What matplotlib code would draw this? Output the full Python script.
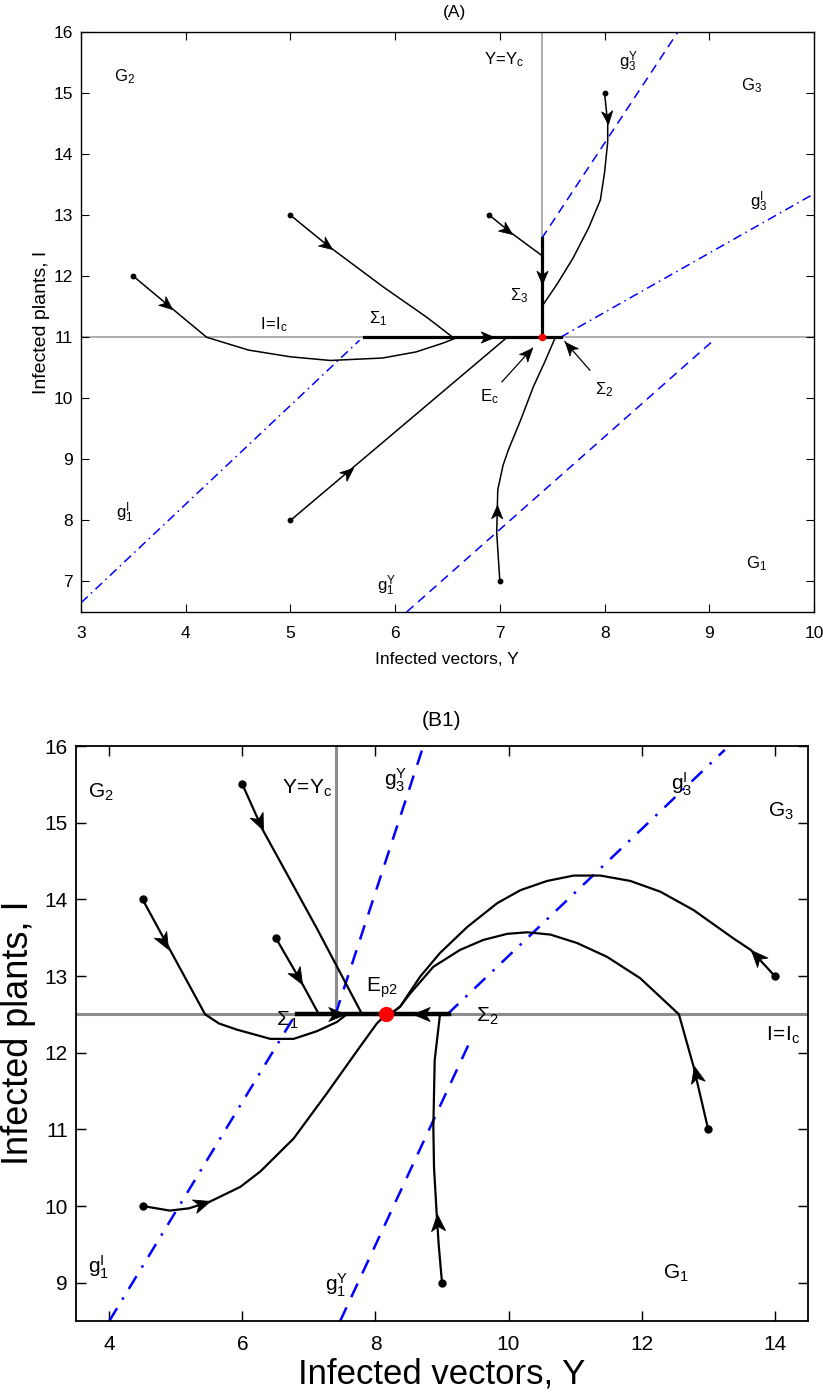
import numpy as np
import matplotlib
matplotlib.use("Agg")
import matplotlib.pyplot as plt
from matplotlib.path import Path
from matplotlib.markers import MarkerStyle
from matplotlib.transforms import Affine2D

plt.rcParams['font.family'] = ['Liberation Sans', 'DejaVu Sans']
plt.rcParams['mathtext.fontset'] = 'custom'
plt.rcParams['mathtext.rm'] = 'Liberation Sans'
plt.rcParams['mathtext.it'] = 'Liberation Sans'
plt.rcParams['mathtext.sf'] = 'Liberation Sans'
plt.rcParams['mathtext.bf'] = 'Liberation Sans:bold'

# ---------------- Panel A data ----------------
A_xlim = (3, 10)
A_ylim = (6.5, 16)
A_xticks = [3, 4, 5, 6, 7, 8, 9, 10]
A_yticks = [7, 8, 9, 10, 11, 12, 13, 14, 15, 16]
A_Yc = 7.4
A_Ic = 11.0
A_Ec = (7.4, 11.0)
A_sigma1 = ([5.70, 7.58], [11.0, 11.0])
A_sigma3 = ([7.4, 7.4], [11.0, 12.62])
A_g1I = ([3.0, 5.66], [6.65, 10.95])
A_g3I = ([7.58, 10.0], [11.0, 13.35])
A_g1Y = ([6.11, 9.04], [6.5, 10.95])
A_g3Y = ([7.4, 8.70], [12.62, 16.0])

A_traj = [
    ([3.5, 3.87, 4.2, 4.6, 5.0, 5.38, 5.88, 6.2, 6.45, 6.6],
     [12.0, 11.47, 11.0, 10.79, 10.68, 10.62, 10.66, 10.76, 10.9, 11.0]),
    ([5.0, 5.35, 5.89, 6.3, 6.55],
     [13.0, 12.51, 11.82, 11.33, 11.0]),
    ([5.0, 7.07], [8.0, 11.0]),
    ([7.0, 6.97, 6.98, 7.03, 7.08, 7.2, 7.32, 7.43, 7.53],
     [7.0, 7.8, 8.5, 8.9, 9.15, 9.65, 10.19, 10.6, 11.0]),
    ([8.0, 8.03, 8.03, 8.0, 7.96, 7.85, 7.7, 7.55, 7.4],
     [15.0, 14.5, 14.2, 13.7, 13.25, 12.8, 12.3, 11.88, 11.5]),
    ([6.9, 7.1, 7.4], [13.0, 12.72, 12.34]),
]
A_starts_x = [3.5, 5.0, 5.0, 7.0, 8.0, 6.9]
A_starts_y = [12.0, 13.0, 8.0, 7.0, 15.0, 13.0]
# arrow tips: (trajectory index or 's1'/'s3', x, y)
A_arrows = [(0, 3.87, 11.47), (1, 5.4, 12.44), (2, 5.6, 8.86), (3, 6.975, 8.25),
            (4, 8.03, 14.5), (5, 7.12, 12.69), ('s1', 6.94, 11.0), ('s3', 7.4, 11.88)]
A_labels = [
    (r'$\mathrm{G}_2$', 3.42, 15.27), (r'$\mathrm{G}_3$', 9.4, 15.12),
    (r'$\mathrm{G}_1$', 9.45, 7.3), (r'$\mathrm{Y\!=\!Y}_\mathrm{c}$', 7.04, 15.54),
    (r'$\mathrm{g}_3^\mathrm{Y}$', 8.23, 15.51), (r'$\mathrm{g}_3^\mathrm{I}$', 9.47, 13.22),
    (r'$\mathrm{I\!=\!I}_\mathrm{c}$', 4.84, 11.2), (r'$\Sigma_1$', 5.84, 11.3),
    (r'$\Sigma_3$', 7.18, 11.68), (r'$\mathrm{E}_\mathrm{c}$', 6.9, 10.02),
    (r'$\Sigma_2$', 8.0, 10.15), (r'$\mathrm{g}_1^\mathrm{I}$', 3.42, 8.12),
    (r'$\mathrm{g}_1^\mathrm{Y}$', 5.92, 6.93),
]
A_pointers = [((7.02, 10.27), (7.31, 10.82)), ((7.86, 10.46), (7.62, 10.93))]

# ---------------- Panel B1 data ----------------
B_xlim = (3.5, 14.5)
B_ylim = (8.5, 16)
B_xticks = [4, 6, 8, 10, 12, 14]
B_yticks = [9, 10, 11, 12, 13, 14, 15, 16]
B_Yc = 7.4
B_Ic = 12.5
B_Ep = (8.16, 12.5)
B_sigma1 = ([6.82, 8.16], [12.5, 12.5])
B_sigma2 = ([8.16, 9.10], [12.5, 12.5])
B_g1I = ([4.0, 6.8], [8.5, 12.5])
B_g3I = ([9.08, 13.25], [12.5, 15.95])
B_g1Y = ([7.47, 9.45], [8.5, 12.2])
B_g3Y = ([7.4, 8.72], [12.5, 16.0])

B_traj = [
    ([4.5, 5.44, 5.65, 5.92, 6.42, 6.77, 7.12, 7.42, 7.57],
     [14.0, 12.5, 12.38, 12.30, 12.18, 12.18, 12.28, 12.40, 12.5]),
    ([6.0, 6.31, 7.12, 7.8], [15.5, 14.9, 13.62, 12.5]),
    ([6.5, 6.7, 6.9, 7.15], [13.5, 13.2, 12.9, 12.5]),
    ([4.5, 4.91, 5.2, 5.52, 5.97, 6.27, 6.77, 7.27, 7.77, 8.02, 8.16],
     [10.0, 9.94, 9.97, 10.06, 10.25, 10.45, 10.88, 11.47, 12.08, 12.38, 12.5]),
    ([14.0, 13.64, 13.38, 12.78, 12.28, 11.83, 11.38, 10.98, 10.58, 10.18, 9.83,
      9.38, 8.97, 8.67, 8.37, 8.22],
     [13.0, 13.34, 13.49, 13.86, 14.10, 14.24, 14.31, 14.31, 14.24, 14.12, 13.95,
      13.64, 13.30, 12.99, 12.60, 12.5]),
    ([13.0, 12.78, 12.56, 11.98, 11.48, 11.03, 10.63, 10.28, 9.98, 9.62, 9.27,
      8.87, 8.52, 8.37, 8.22],
     [11.0, 11.82, 12.5, 12.97, 13.25, 13.43, 13.54, 13.57, 13.55, 13.47, 13.34,
      13.12, 12.77, 12.60, 12.5]),
    ([9.0, 8.95, 8.92, 8.88, 8.87, 8.89, 8.97],
     [9.0, 9.5, 9.9, 10.5, 11.03, 11.9, 12.5]),
]
B_starts_x = [4.5, 6.0, 6.5, 4.5, 14.0, 13.0, 9.0]
B_starts_y = [14.0, 15.5, 13.5, 10.0, 13.0, 11.0, 9.0]
B_arrows = [(0, 4.88, 13.35), (1, 6.31, 14.9), (2, 6.9, 12.9), (3, 5.52, 10.06),
            (4, 13.64, 13.34), (5, 12.78, 11.82), (6, 8.92, 9.9),
            ('s1', 7.54, 12.5), ('s2', 8.57, 12.5)]
B_labels = [
    (r'$\mathrm{G}_2$', 3.87, 15.4), (r'$\mathrm{G}_3$', 14.1, 15.15),
    (r'$\mathrm{G}_1$', 12.52, 9.12), (r'$\mathrm{Y\!=\!Y}_\mathrm{c}$', 6.98, 15.45),
    (r'$\mathrm{g}_3^\mathrm{Y}$', 8.3, 15.55), (r'$\mathrm{g}_3^\mathrm{I}$', 12.6, 15.5),
    (r'$\mathrm{I\!=\!I}_\mathrm{c}$', 14.13, 12.22), (r'$\Sigma_1$', 6.68, 12.42),
    (r'$\Sigma_2$', 9.68, 12.48), (r'$\mathrm{E}_\mathrm{p2}$', 8.1, 12.85),
    (r'$\mathrm{g}_1^\mathrm{I}$', 3.84, 9.2), (r'$\mathrm{g}_1^\mathrm{Y}$', 7.42, 8.97),
]

# ---------------- drawing ----------------
W, H = 823, 1396
fig = plt.figure(figsize=(W / 100, H / 100), dpi=100)

def px_axes(l, t, r, b):
    return fig.add_axes([l / W, 1 - b / H, (r - l) / W, (b - t) / H])

axA = px_axes(81, 32, 814, 612)
axB = px_axes(76, 746, 808, 1321)

head_path = Path([(0, 0), (-1, 0.42), (-0.72, 0), (-1, -0.42), (0, 0)],
                 [Path.MOVETO, Path.LINETO, Path.LINETO, Path.LINETO, Path.CLOSEPOLY])

def draw_arrow(ax, xs, ys, x, y, ms):
    xs = np.asarray(xs, float); ys = np.asarray(ys, float)
    best, bi = 1e9, 0
    for i in range(len(xs) - 1):
        seglen = np.hypot(xs[i + 1] - xs[i], ys[i + 1] - ys[i])
        t = 0 if seglen == 0 else np.clip(((x - xs[i]) * (xs[i + 1] - xs[i]) + (y - ys[i]) * (ys[i + 1] - ys[i])) / seglen ** 2, 0, 1)
        px_, py_ = xs[i] + t * (xs[i + 1] - xs[i]), ys[i] + t * (ys[i + 1] - ys[i])
        d = np.hypot(px_ - x, py_ - y)
        if d < best:
            best, bi = d, i
    p0 = ax.transData.transform((xs[bi], ys[bi]))
    p1 = ax.transData.transform((xs[bi + 1], ys[bi + 1]))
    ang = np.degrees(np.arctan2(p1[1] - p0[1], p1[0] - p0[0]))
    m = MarkerStyle(head_path, transform=Affine2D().rotate_deg(ang))
    ax.plot([x], [y], marker=m, ms=ms, color='k', mec='k', mew=0.6, zorder=6)

def setup(ax, xlim, ylim, xt, yt, fs, tl, lw, pad):
    ax.set_xlim(*xlim); ax.set_ylim(*ylim)
    ax.set_xticks(xt); ax.set_yticks(yt)
    ax.tick_params(direction='in', top=True, right=True, length=tl, width=lw * 0.8,
                   labelsize=fs)
    ax.tick_params(axis='x', pad=pad)
    ax.tick_params(axis='y', pad=pad * 0.6)
    for s in ax.spines.values():
        s.set_linewidth(lw)

# ---- Panel A ----
ax = axA
setup(ax, A_xlim, A_ylim, A_xticks, A_yticks, 12.5, 6, 1.0, 10)
gray = '#999999'
ax.plot(A_xlim, [A_Ic, A_Ic], color=gray, lw=1.1, zorder=1)
ax.plot([A_Yc, A_Yc], [A_Ic, A_ylim[1]], color=gray, lw=1.1, zorder=1)
ax.plot(*A_g1I, color='blue', lw=1.1, dashes=[6, 3, 1, 3], zorder=2)
ax.plot(*A_g3I, color='blue', lw=1.1, dashes=[6, 3, 1, 3], zorder=2)
ax.plot(*A_g1Y, color='blue', lw=1.1, dashes=[6, 4], zorder=2)
ax.plot(*A_g3Y, color='blue', lw=1.1, dashes=[6, 4], zorder=2)
for xs, ys in A_traj:
    ax.plot(xs, ys, color='k', lw=1.1, zorder=3)
ax.plot(*A_sigma1, color='k', lw=2.3, zorder=4)
ax.plot(*A_sigma3, color='k', lw=2.3, zorder=4)
ax.plot(A_starts_x, A_starts_y, 'o', color='k', ms=3.2, zorder=5)
ax.plot([A_Ec[0]], [A_Ec[1]], 'o', color='red', ms=4.5, zorder=7)
for key, x, y in A_arrows:
    if key == 's1':
        xs, ys = A_sigma1
    elif key == 's3':
        xs, ys = [A_Yc, A_Yc], [A_sigma3[1][1], A_sigma3[1][0]]
    else:
        xs, ys = A_traj[key]
    draw_arrow(ax, xs, ys, x, y, 19)
for t, x, y in A_labels:
    ax.text(x, y, t, fontsize=12, ha='center', va='center', zorder=8)
for (tx, ty), (hx, hy) in A_pointers:
    ax.plot([tx, hx], [ty, hy], color='k', lw=0.9, zorder=6)
    draw_arrow(ax, [tx, hx], [ty, hy], hx, hy, 19)
fig.text(455 / W, 1 - 13 / H, '(A)', fontsize=12.5, ha='center', va='center')
fig.text(447 / W, 1 - 660 / H, 'Infected vectors, Y', fontsize=12.5, ha='center', va='center')
fig.text(42 / W, 1 - 322 / H, 'Infected plants, I', fontsize=14, ha='center', va='center',
         rotation=90)

# ---- Panel B1 ----
ax = axB
setup(ax, B_xlim, B_ylim, B_xticks, B_yticks, 15, 7, 1.3, 10)
ax.plot(B_xlim, [B_Ic, B_Ic], color='#8c8c8c', lw=2.2, zorder=1)
ax.plot([B_Yc, B_Yc], [B_Ic, B_ylim[1]], color='#8c8c8c', lw=2.2, zorder=1)
ax.plot(*B_g1I, color='blue', lw=1.8, dashes=[6, 4, 1, 4], zorder=2)
ax.plot(*B_g3I, color='blue', lw=1.8, dashes=[6, 4, 1, 4], zorder=2)
ax.plot(*B_g1Y, color='blue', lw=1.8, dashes=[6, 4.5], zorder=2)
ax.plot(*B_g3Y, color='blue', lw=1.8, dashes=[6, 4.5], zorder=2)
for xs, ys in B_traj:
    ax.plot(xs, ys, color='k', lw=1.6, zorder=3)
ax.plot(*B_sigma1, color='k', lw=3.2, zorder=4)
ax.plot(*B_sigma2, color='k', lw=3.2, zorder=4)
ax.plot(B_starts_x, B_starts_y, 'o', color='k', ms=5, zorder=5)
ax.plot([B_Ep[0]], [B_Ep[1]], 'o', color='red', ms=10, zorder=7)
for key, x, y in B_arrows:
    if key == 's1':
        xs, ys = B_sigma1
    elif key == 's2':
        xs, ys = B_sigma2[0][::-1], B_sigma2[1]
    else:
        xs, ys = B_traj[key]
    draw_arrow(ax, xs, ys, x, y, 24)
for t, x, y in B_labels:
    ax.text(x, y, t, fontsize=15, ha='center', va='center', zorder=8)
fig.text(442 / W, 1 - 720 / H, '(B1)', fontsize=15, ha='center', va='center')
fig.text(442 / W, 1 - 1374 / H, 'Infected vectors, Y', fontsize=25, ha='center', va='center')
fig.text(19 / W, 1 - 1033 / H, 'Infected plants, I', fontsize=26, ha='center', va='center',
         rotation=90)

fig.savefig('out.png', dpi=100)
